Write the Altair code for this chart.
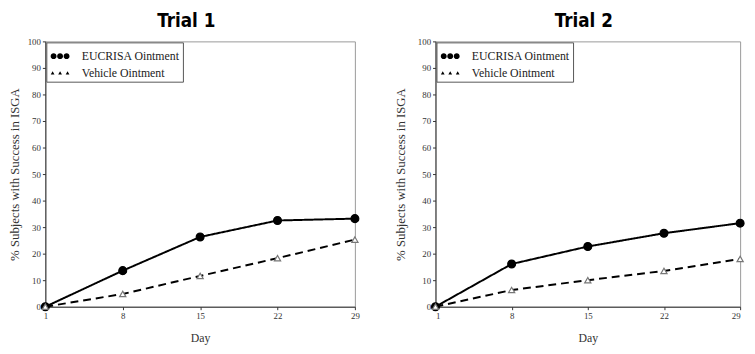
import altair as alt
import pandas as pd

days = [1, 8, 15, 22, 29]
series_names = ["EUCRISA Ointment", "Vehicle Ointment"]
trial1_eucrisa = [0, 13.6, 26.3, 32.5, 33.2]
trial1_vehicle = [0, 4.8, 11.6, 18.3, 25.3]
trial2_eucrisa = [0, 16.1, 22.7, 27.7, 31.5]
trial2_vehicle = [0, 6.3, 10.0, 13.5, 18.0]
y_ticks = list(range(0, 101, 10))
panel_titles = ["Trial 1", "Trial 2"]

SERIF = "Liberation Serif"
TITLE_FONT = "'DejaVu Sans Condensed', Roboto, 'Liberation Sans', sans-serif"

# legend glyphs: line with three markers
EUC_PATH = ("M-1,0L1,0 "
            "M-0.96,0a0.3,0.3 0 1,0 0.6,0a0.3,0.3 0 1,0 -0.6,0 "
            "M-0.3,0a0.3,0.3 0 1,0 0.6,0a0.3,0.3 0 1,0 -0.6,0 "
            "M0.36,0a0.3,0.3 0 1,0 0.6,0a0.3,0.3 0 1,0 -0.6,0")
VEH_PATH = ("M-0.95,0.17L-0.76,-0.17L-0.57,0.17Z "
            "M-0.55,0L-0.2,0 "
            "M-0.19,0.17L0,-0.17L0.19,0.17Z "
            "M0.2,0L0.55,0 "
            "M0.57,0.17L0.76,-0.17L0.95,0.17Z")


def make_df(euc, veh):
    rows = []
    for d, v in zip(days, euc):
        rows.append({"day": d, "value": v, "series": series_names[0]})
    for d, v in zip(days, veh):
        rows.append({"day": d, "value": v, "series": series_names[1]})
    return pd.DataFrame(rows)


def panel(df, title, w, h, dx, ytitle_pad, flush):
    base = alt.Chart(df).encode(
        x=alt.X("day:Q",
                scale=alt.Scale(domain=[1, 29], nice=False, zero=False),
                axis=alt.Axis(values=days, title="Day", format="d",
                              labelFlush=flush, titleFontSize=12,
                              titlePadding=12)),
        y=alt.Y("value:Q",
                scale=alt.Scale(domain=[0, 100], nice=False),
                axis=alt.Axis(values=y_ticks, titlePadding=ytitle_pad,
                              titleFontSize=13,
                              title="% Subjects with Success in ISGA")),
    )
    line = base.mark_line(color="black", strokeWidth=2).encode(
        strokeDash=alt.StrokeDash("series:N",
                                  scale=alt.Scale(domain=series_names,
                                                  range=[[1, 0], [8, 5]]),
                                  legend=None)
    )
    pts = base.mark_point(strokeWidth=1.2, opacity=1).encode(
        shape=alt.Shape("series:N",
                        scale=alt.Scale(domain=series_names,
                                        range=["circle", "triangle-up"]),
                        legend=None),
        fill=alt.Fill("series:N",
                      scale=alt.Scale(domain=series_names,
                                      range=["black", "white"]),
                      legend=None),
        stroke=alt.Stroke("series:N",
                          scale=alt.Scale(domain=series_names,
                                          range=["black", "#777777"]),
                          legend=None),
        size=alt.Size("series:N",
                      scale=alt.Scale(domain=series_names, range=[64, 40]),
                      legend=None),
    )
    leg = base.mark_point(size=0, opacity=0, color="black").encode(
        shape=alt.Shape("series:N",
                        scale=alt.Scale(domain=series_names,
                                        range=[EUC_PATH, VEH_PATH]),
                        legend=alt.Legend(
                            title=None, orient="top-left", offset=1,
                            padding=3, strokeColor="#555555",
                            fillColor="white", symbolSize=400,
                            symbolOpacity=1, symbolStrokeColor="black",
                            symbolStrokeWidth=1.2,
                            labelFont=SERIF, labelFontSize=12,
                            labelColor="#222222", labelOffset=11,
                            rowPadding=-3)),
        fill=alt.Fill("series:N",
                      scale=alt.Scale(domain=series_names,
                                      range=["black", "white"])),
    )
    return (alt.layer(line, pts, leg)
            .resolve_scale(shape="independent")
            .properties(width=w, height=h,
                        title=alt.Title(title, font=TITLE_FONT,
                                        fontSize=19, fontWeight="bold",
                                        anchor="middle", dx=dx, offset=7,
                                        color="black")))


p1 = panel(make_df(trial1_eucrisa, trial1_vehicle), panel_titles[0],
           315, 270, -14, 6, False)
p2 = panel(make_df(trial2_eucrisa, trial2_vehicle), panel_titles[1],
           310, 270, -4, 10, True)

chart = (alt.hconcat(p1, p2, spacing=33)
         .resolve_scale(shape="independent", fill="independent",
                        strokeDash="independent", stroke="independent",
                        size="independent")
         .resolve_legend(shape="independent", fill="independent")
         .properties(padding={"left": 0, "top": 0, "right": 0, "bottom": 0})
         .configure_view(stroke="#999999", strokeWidth=1)
         .configure_axis(grid=False, domainColor="#333333", tickColor="#333333",
                         tickSize=3, labelFont=SERIF, labelFontSize=9,
                         labelColor="#333333", labelPadding=2,
                         titleFont=SERIF,
                         titleFontWeight="normal", titleColor="#333333",
                         titlePadding=10))

chart.save("out.html", embed_options={"renderer": "svg", "actions": False})
